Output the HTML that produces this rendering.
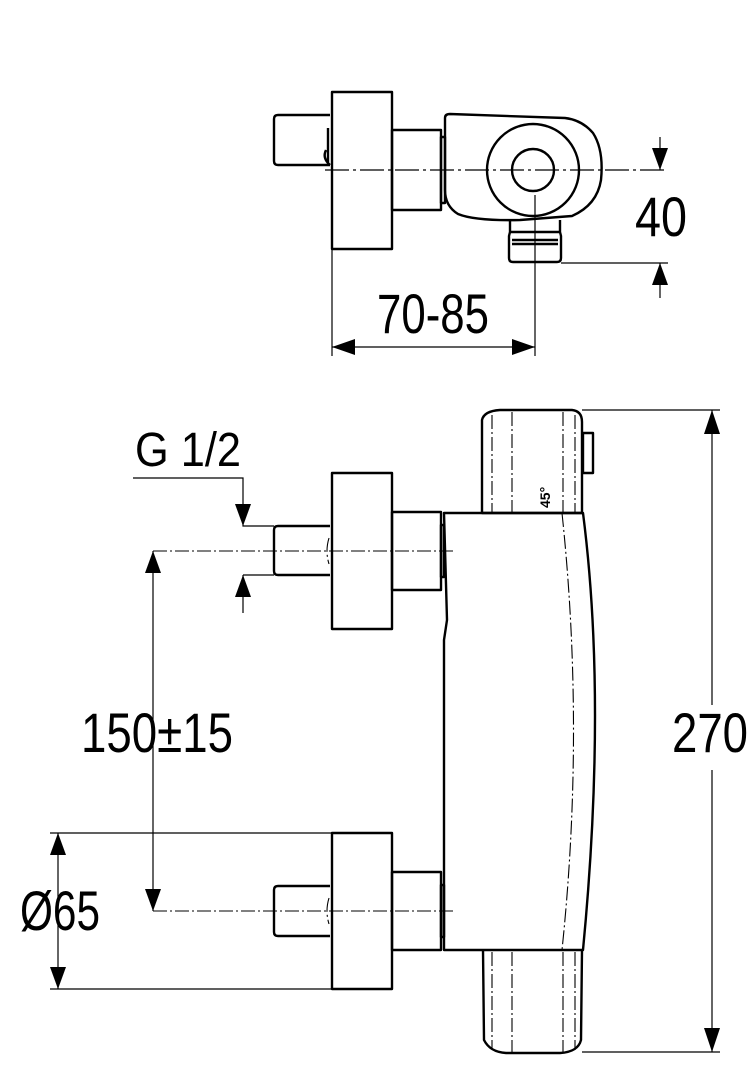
<!DOCTYPE html>
<html><head><meta charset="utf-8"><style>html,body{margin:0;padding:0;background:#fff}svg{display:block}text{font-family:"Liberation Sans",sans-serif;fill:#000}</style></head>
<body>
<svg width="756" height="1080" viewBox="0 0 756 1080" xmlns="http://www.w3.org/2000/svg">
<g fill="none" stroke="#000" stroke-width="2.4" stroke-linejoin="round">
<!-- TOP VIEW -->
<rect x="332" y="92" width="60" height="157"/>
<path d="M330 115 H278 Q274 115 274 119 V161 Q274 165 278 165 H330"/>
<path d="M328 128 V165 M326 150 Q322 158 330 165"/>
<rect x="392" y="130" width="49" height="80"/>
<rect x="441" y="137" width="4" height="66"/>
<path d="M445 118 Q445 114 450 114 L565 118 Q582 120 593 133 Q604 150 601 180 Q597 205 572 216 L520 220 Q475 221 458 214 Q445 206 445 190 Z"/>
<circle cx="533" cy="170" r="46"/>
<circle cx="533" cy="170" r="21"/>
<path d="M510 220 V232 H560 V220 M510 232 L509 236 V258 Q509 262 513 262 H557 Q561 262 561 258 V236 L560 232 M512 240 H558 M512 244 H558"/>
</g>
<g stroke="#000" stroke-width="1.2" fill="none">
<path d="M325 170 H668" stroke-dasharray="24 4 3 4"/>
<path d="M561 263 H668"/>
<path d="M660 137 V170 M660 263 V298"/>
<path d="M332 249 V356 M535 195 V356 M332 347 H535"/>
</g>
<g fill="#000">
<path d="M652 148 L668 148 L660 170 Z"/>
<path d="M652 285 L668 285 L660 263 Z"/>
<path d="M332 347 L355 339 L355 355 Z"/>
<path d="M535 347 L512 339 L512 355 Z"/>
</g>
<text x="661" y="236" font-size="56" text-anchor="middle" textLength="52" lengthAdjust="spacingAndGlyphs">40</text>
<text x="433" y="333" font-size="56" text-anchor="middle" textLength="112" lengthAdjust="spacingAndGlyphs">70-85</text>

<!-- FRONT VIEW -->
<g fill="none" stroke="#000" stroke-width="2.4" stroke-linejoin="round">
<path d="M482 513 V420 Q484 411 500 410 L572 410 Q582 411 582 422 V513 Z"/>
<rect x="583" y="433" width="10" height="40"/>
<path d="M444 513 H583 Q607 700 583 950 H444 V640 L447 620 Z"/>
<path d="M483 950 L484 1040 Q490 1052 506 1053 L560 1053 Q578 1052 581 1040 L582 950"/>
<rect x="332" y="473" width="60" height="156"/>
<rect x="392" y="512" width="49" height="78"/>
<rect x="441" y="525" width="3" height="52"/>
<path d="M330 526 H278 Q274 526 274 530 V571 Q274 575 278 575 H330"/>
<rect x="332" y="833" width="60" height="156"/>
<rect x="392" y="872" width="49" height="78"/>
<rect x="441" y="885" width="3" height="52"/>
<path d="M330 886 H278 Q274 886 274 890 V932 Q274 936 278 936 H330"/>
</g>
<g fill="none" stroke="#000" stroke-width="1.1" stroke-dasharray="14 3 2 3">
<path d="M492 415 V512 M512 412 V512 M563 412 V512 M575 415 V512"/>
<path d="M492 952 V1050 M512 952 V1052 M563 952 V1052 M575 952 V1050"/>
<path d="M562 513 Q585 730 562 950"/>
<path d="M153 551 H455 M153 911 H455"/>
<path d="M329 538 Q325 551 329 564 M329 898 Q325 911 329 924"/>
</g>
<g stroke="#000" stroke-width="1.2" fill="none">
<path d="M582 410 H720 M582 1052 H720 M712 410 V705 M712 770 V1052"/>
<path d="M133 478 H243 V526 H274 M243 575 H274 M243 575 V613"/>
<path d="M153 551 V911"/>
<path d="M50 833 H332 M50 989 H332 M58 833 V989"/>
</g>
<g fill="#000">
<path d="M712 410 L704 434 L720 434 Z"/>
<path d="M712 1052 L704 1028 L720 1028 Z"/>
<path d="M243 526 L235 504 L251 504 Z"/>
<path d="M243 575 L235 597 L251 597 Z"/>
<path d="M153 551 L145 573 L161 573 Z"/>
<path d="M153 911 L145 889 L161 889 Z"/>
<path d="M58 833 L50 855 L66 855 Z"/>
<path d="M58 989 L50 967 L66 967 Z"/>
</g>
<text x="188" y="466" font-size="48" text-anchor="middle" textLength="106" lengthAdjust="spacingAndGlyphs">G 1/2</text>
<text x="157" y="752" font-size="56" text-anchor="middle" textLength="152" lengthAdjust="spacingAndGlyphs">150±15</text>
<text x="710" y="752" font-size="56" text-anchor="middle" textLength="76" lengthAdjust="spacingAndGlyphs">270</text>
<text x="60" y="930" font-size="56" text-anchor="middle" textLength="80" lengthAdjust="spacingAndGlyphs">Ø65</text>
<text x="0" y="0" font-size="14" font-weight="bold" transform="translate(550,508) rotate(-90)">45°</text>
</svg>
</body></html>
